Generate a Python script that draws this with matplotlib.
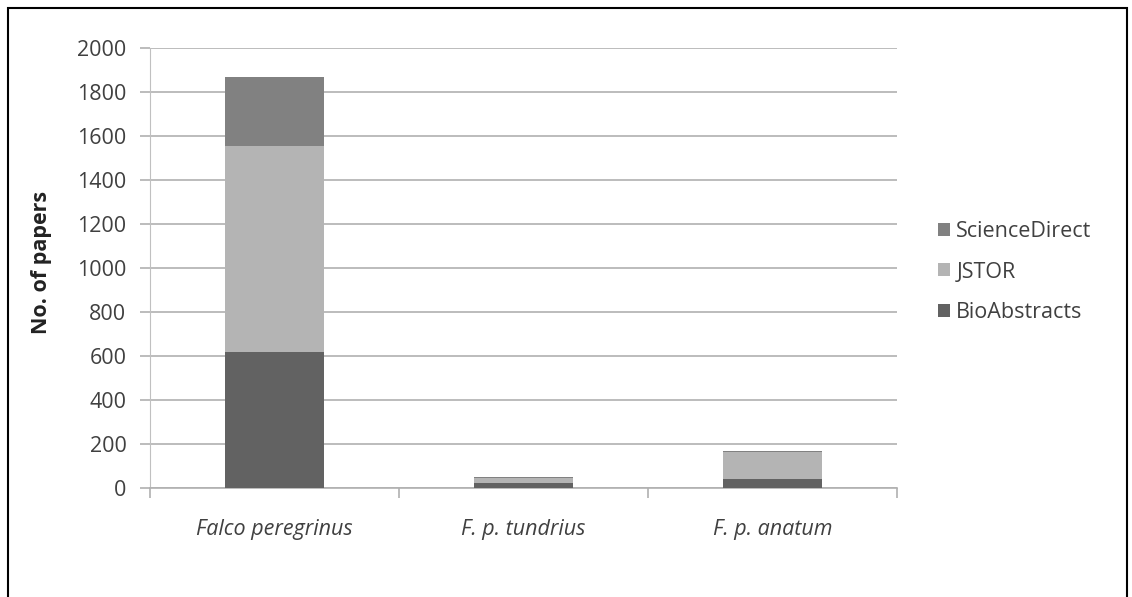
import matplotlib
matplotlib.use("Agg")
import matplotlib.pyplot as plt
from matplotlib.patches import Rectangle
import numpy as np

categories = ["Falco peregrinus", "F. p. tundrius", "F. p. anatum"]
bioabstracts = [620, 25, 40]
jstor = [935, 20, 125]
sciencedirect = [315, 3, 2]
yticks = [0, 200, 400, 600, 800, 1000, 1200, 1400, 1600, 1800, 2000]

plt.rcParams['font.family'] = ['Open Sans', 'DejaVu Sans']

fig = plt.figure(figsize=(11.32, 5.97), dpi=100)
W, H = 1132, 597
# outer frame
fig.patches.append(Rectangle((8 / W, -0.01), (1127 - 8) / W, (597 - 8) / H + 0.01,
                             transform=fig.transFigure, fill=False,
                             edgecolor='black', linewidth=1.5))

ax = fig.add_axes([150 / W, 1 - 488 / H, (897 - 150) / W, (488 - 48) / H])
x = np.arange(len(categories))
w = 0.4
c_bio, c_jstor, c_sd = '#626262', '#b4b4b4', '#818181'
b0 = np.array(bioabstracts)
b1 = b0 + np.array(jstor)
ax.bar(x, bioabstracts, w, color=c_bio, label='BioAbstracts', zorder=3)
ax.bar(x, jstor, w, bottom=b0, color=c_jstor, label='JSTOR', zorder=3)
ax.bar(x, sciencedirect, w, bottom=b1, color=c_sd, label='ScienceDirect', zorder=3)

fs = 15.5
ax.set_xlim(-0.5, 2.5)
ax.set_ylim(0, 2000)
ax.set_yticks(yticks)
ax.set_yticklabels([str(v) for v in yticks], fontsize=fs, color='#404040')
ax.yaxis.grid(True, color='#b0b0b0', linewidth=1.2, zorder=0)
ax.set_axisbelow(True)
ax.tick_params(axis='y', length=7, width=1.2, color='#b0b0b0', pad=10)
ax.set_xticks(x)
ax.set_xticklabels(categories, fontsize=fs, style='italic', color='#404040')
ax.set_xticks([-0.5, 0.5, 1.5, 2.5], minor=True)
ax.tick_params(axis='x', which='major', length=0, pad=22)
ax.tick_params(axis='x', which='minor', length=7, color='#b0b0b0', width=1.2)
for s in ['top', 'right']:
    ax.spines[s].set_visible(False)
ax.spines['left'].set_color('#c0c0c0')
ax.spines['bottom'].set_color('#b0b0b0')
ax.spines['bottom'].set_linewidth(1.2)
ax.set_ylabel('No. of papers', fontsize=fs, fontweight='bold', color='#222222', labelpad=8)
ax.yaxis.set_label_coords(52 / W, 1 - 262 / H, transform=fig.transFigure)

handles, labels = ax.get_legend_handles_labels()
leg = fig.legend(handles[::-1], labels[::-1], loc='center left',
                 bbox_to_anchor=(938 / W, 1 - 272 / H), frameon=False,
                 fontsize=fs, handlelength=0.55, handleheight=0.55,
                 handletextpad=0.3, labelspacing=0.9, borderpad=0,
                 borderaxespad=0)
for t in leg.get_texts():
    t.set_color('#404040')

fig.savefig('out.png', dpi=100)
